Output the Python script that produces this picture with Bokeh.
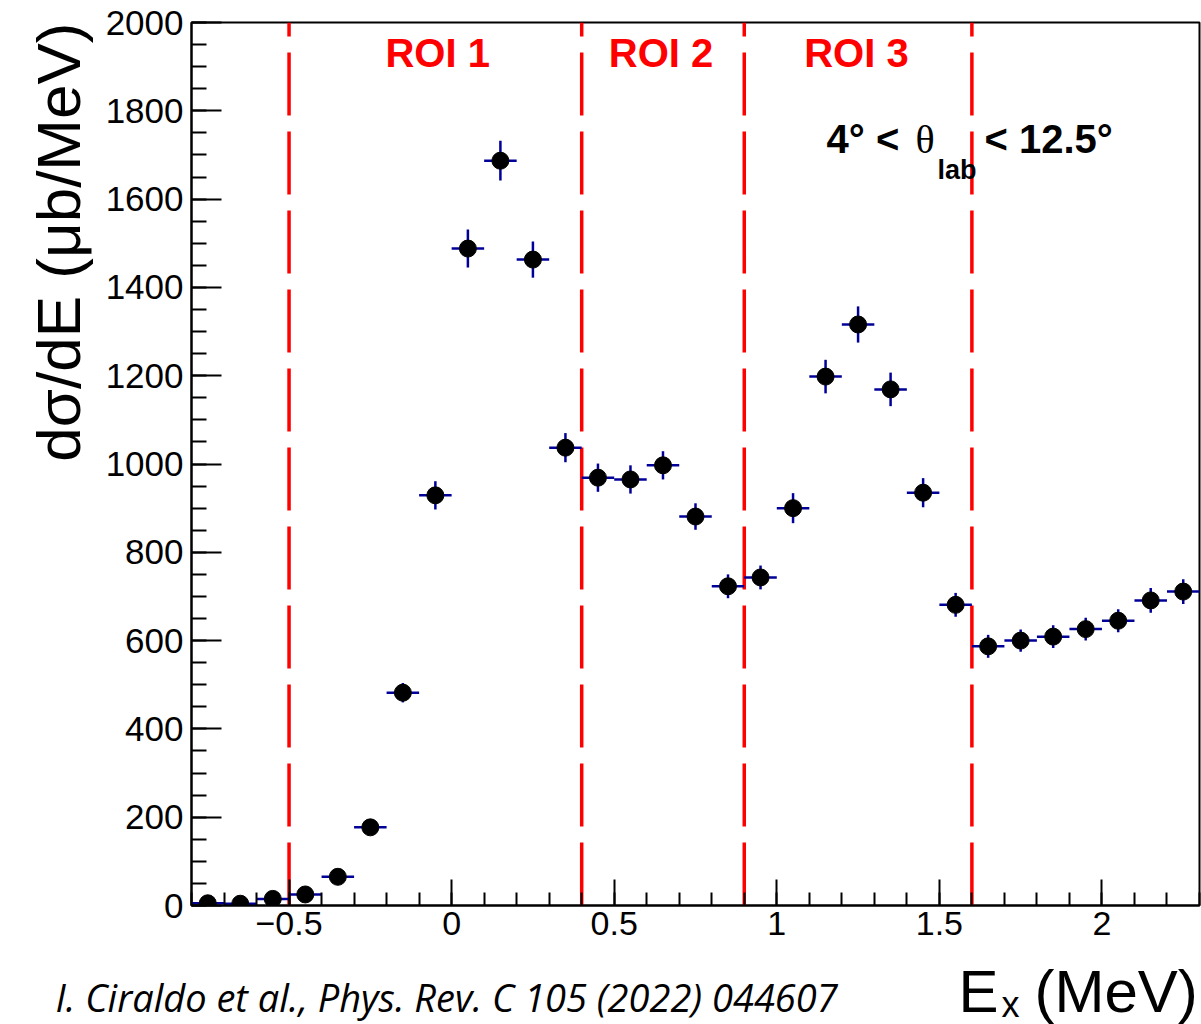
import math
from bokeh.plotting import figure
from bokeh.layouts import column
from bokeh.models import Range1d, FixedTicker, Label, ColumnDataSource, Title
from bokeh.embed import file_html
from bokeh.resources import INLINE

# ---- data -------------------------------------------------------------
ex = [-0.75, -0.65, -0.55, -0.45, -0.35, -0.25, -0.15, -0.05,
      0.05, 0.15, 0.25, 0.35, 0.45, 0.55, 0.65, 0.75, 0.85, 0.95,
      1.05, 1.15, 1.25, 1.35, 1.45, 1.55, 1.65, 1.75, 1.85, 1.95,
      2.05, 2.15, 2.25]
xsec = [5, 4, 15, 25, 65, 177, 482, 929,
        1488, 1687, 1463, 1037, 969, 965, 997, 881, 723, 743,
        900, 1198, 1316, 1169, 935, 681, 587, 600, 609, 626,
        645, 691, 711]
xsec_err = [3, 3, 5, 6, 10, 15, 22, 32,
            43, 45, 41, 33, 32, 32, 32, 30, 27, 27,
            34, 38, 41, 38, 33, 27, 26, 25, 26, 26,
            26, 28, 28]
bin_half = 0.05
roi_edges = [-0.5, 0.4, 0.9, 1.6]
roi_names = ["ROI 1", "ROI 2", "ROI 3"]
roi_label_x = [-0.043, 0.644, 1.245]
x_major = [-0.5, 0, 0.5, 1, 1.5, 2]
x_major_labels = ["\u22120.5", "0", "0.5", "1", "1.5", "2"]
x_minor = [round(-0.8 + 0.1 * i, 2) for i in range(32)]
y_major = list(range(0, 2001, 200))
y_minor = list(range(0, 2001, 50))

# ---- main figure --------------------------------------------------------
p = figure(width=1201, height=952, x_range=Range1d(-0.8, 2.3),
           y_range=Range1d(0, 2000), output_backend="svg",
           toolbar_location=None, min_border_left=191, min_border_right=2,
           min_border_top=22, min_border_bottom=47)
p.xgrid.visible = False
p.ygrid.visible = False
p.outline_line_color = "black"
p.outline_line_width = 2
p.background_fill_color = "white"
p.border_fill_color = "white"

p.xaxis.ticker = FixedTicker(ticks=x_major, minor_ticks=x_minor)
p.xaxis.major_label_overrides = {t: l for t, l in zip(x_major, x_major_labels)}
p.yaxis.ticker = FixedTicker(ticks=y_major, minor_ticks=y_minor)
for ax in (p.xaxis[0], p.yaxis[0]):
    ax.axis_line_width = 2
    ax.axis_line_color = "black"
    ax.major_tick_line_width = 2
    ax.minor_tick_line_width = 2
    ax.major_tick_out = 0
    ax.minor_tick_out = 0
    ax.major_label_text_font = "Liberation Sans"
    ax.major_label_text_color = "black"
p.xaxis.major_tick_in = 26
p.xaxis.minor_tick_in = 13
p.yaxis.major_tick_in = 30
p.yaxis.minor_tick_in = 15
p.xaxis.major_label_text_font_size = "34px"
p.yaxis.major_label_text_font_size = "35px"
p.xaxis.major_label_standoff = 6
p.yaxis.major_label_standoff = 8

# y-axis title (side panel, not clipped)
p.add_layout(Title(text="d\u03c3/dE (\u03bcb/MeV)", text_font="Liberation Sans",
                   text_font_style="normal", text_font_size="62px",
                   text_color="black", align="right", standoff=19), "left")

# ROI dashed lines
p.segment(x0=roi_edges, y0=[0] * len(roi_edges), x1=roi_edges,
          y1=[2000] * len(roi_edges), line_color="#ff0000", line_width=3.5,
          line_dash="63 16")

# data with error bars
src = ColumnDataSource(dict(
    x=ex, y=xsec,
    xl=[v - bin_half for v in ex], xh=[v + bin_half for v in ex],
    yl=[v - e for v, e in zip(xsec, xsec_err)],
    yh=[v + e for v, e in zip(xsec, xsec_err)],
))
p.segment(x0="xl", y0="y", x1="xh", y1="y", source=src,
          line_color="#000099", line_width=2.5)
p.segment(x0="x", y0="yl", x1="x", y1="yh", source=src,
          line_color="#000099", line_width=2.5)
p.scatter(x="x", y="y", source=src, marker="circle", size=17,
          fill_color="black", line_color="black")

# ROI labels
for name, lx in zip(roi_names, roi_label_x):
    p.add_layout(Label(x=lx, y=1930, text=name, text_font="Liberation Sans",
                       text_font_style="bold", text_font_size="40px",
                       text_color="#ff0000", text_align="center",
                       text_baseline="alphabetic"))

# angle range annotation
p.add_layout(Label(x=1.153, y=1735, text="4\u00b0 <", text_font="Liberation Sans",
                   text_font_style="bold", text_font_size="40px",
                   text_color="black", text_baseline="alphabetic"))
p.add_layout(Label(x=1.4266, y=1735, text="\u03b8", text_font="Liberation Serif",
                   text_font_size="40px", text_color="black",
                   text_baseline="alphabetic"))
p.add_layout(Label(x=1.4943, y=1665, text="lab", text_font="Liberation Sans",
                   text_font_style="bold", text_font_size="27px",
                   text_color="black", text_baseline="alphabetic"))
p.add_layout(Label(x=1.6388, y=1735, text="< 12.5\u00b0", text_font="Liberation Sans",
                   text_font_style="bold", text_font_size="40px",
                   text_color="black", text_baseline="alphabetic"))

# ---- bottom strip: x title and citation --------------------------------
p2 = figure(width=1201, height=72, x_range=Range1d(0, 1201),
            y_range=Range1d(72, 0), output_backend="svg",
            toolbar_location=None, x_axis_location=None, y_axis_location=None,
            min_border=0, min_border_left=0, min_border_right=0,
            min_border_top=0, min_border_bottom=0)
if "frame_align" in p2.properties():
    p2.frame_align = False
    p.frame_align = False
p2.xgrid.visible = False
p2.ygrid.visible = False
p2.outline_line_color = None
p2.background_fill_color = "white"
p2.border_fill_color = "white"

p2.add_layout(Label(x=55, y=44,
                    text="I. Ciraldo et al., Phys. Rev. C 105 (2022) 044607",
                    text_font="Open Sans", text_font_style="italic",
                    text_font_size="38px", text_color="black",
                    text_baseline="alphabetic"))
p2.add_layout(Label(x=958, y=39, text="E", text_font="Liberation Sans",
                    text_font_size="60px", text_color="black",
                    text_baseline="alphabetic"))
p2.add_layout(Label(x=1001, y=52, text="x", text_font="Liberation Sans",
                    text_font_size="36px", text_color="black",
                    text_baseline="alphabetic"))
p2.add_layout(Label(x=1034, y=39, text="(MeV)", text_font="Liberation Sans",
                    text_font_size="60px", text_color="black",
                    text_baseline="alphabetic"))

layout = column(p, p2, spacing=0)
open("out.html", "w").write(file_html(layout, INLINE))
